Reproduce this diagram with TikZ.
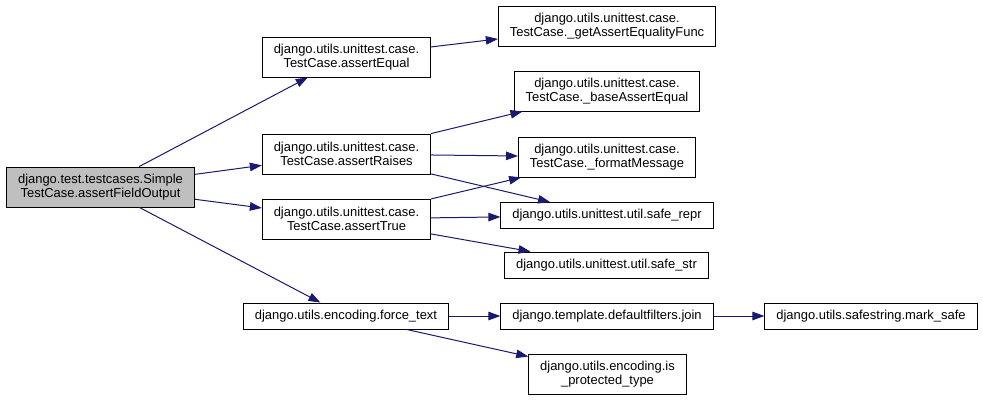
\documentclass[tikz,border=0pt]{standalone}
\usepackage{fontspec}
\setmainfont{Liberation Sans}
\usetikzlibrary{arrows.meta}
\definecolor{edgeblue}{HTML}{191970}
\definecolor{rootgray}{HTML}{BFBFBF}
\tikzset{
  fn/.style={draw=black, line width=0.9bp, fill=white, align=center, inner xsep=11.5bp, inner ysep=0pt,
    minimum height=26bp, font=\fontsize{13}{14}\selectfont},
  fn2/.style={fn, minimum height=40bp},
  call/.style={draw=edgeblue, line width=1bp, -{Triangle[length=12bp,width=8.5bp]}}
}
\begin{document}
\begin{tikzpicture}[x=1bp, y=-1bp]
            \useasboundingbox (0,0) rectangle (983,401);
            \node[fn2, fill=rootgray] (root) at (100.5,187) {django.test.testcases.Simple\\TestCase.assertFieldOutput};
            \node[fn2] (eq) at (346.5,57) {django.utils.unittest.case.\\TestCase.assertEqual};
            \node[fn2] (ra) at (346.5,154) {django.utils.unittest.case.\\TestCase.assertRaises};
            \node[fn2] (tr) at (346.5,219) {django.utils.unittest.case.\\TestCase.assertTrue};
            \node[fn] (ft) at (346,316) {django.utils.encoding.force\_text};
            \node[fn2] (gf) at (607,26) {django.utils.unittest.case.\\TestCase.\_getAssertEqualityFunc};
            \node[fn2] (ba) at (607,91) {django.utils.unittest.case.\\TestCase.\_baseAssertEqual};
            \node[fn2] (fm) at (607,157) {django.utils.unittest.case.\\TestCase.\_formatMessage};
            \node[fn] (sr) at (607,215.5) {django.utils.unittest.util.safe\_repr};
            \node[fn] (ss) at (606.5,265) {django.utils.unittest.util.safe\_str};
            \node[fn] (jn) at (607,316) {django.template.defaultfilters.join};
            \node[fn2] (ip) at (607.5,374) {django.utils.encoding.is\\\_protected\_type};
            \node[fn] (ms) at (871,316) {django.utils.safestring.mark\_safe};
            \draw[call] (root) to (eq);
            \draw[call] (root) to (ra);
            \draw[call] (root) to (tr);
            \draw[call] (root) to (ft);
            \draw[call] (eq) to (gf);
            \draw[call] (ra) to (ba);
            \draw[call] (ra) to (fm);
            \draw[call] (ra) to (sr);
            \draw[call] (tr) to (fm);
            \draw[call] (tr) to (sr);
            \draw[call] (tr) to (ss);
            \draw[call] (ft) to (jn);
            \draw[call] (ft) to (ip);
            \draw[call] (jn) to (ms);
        \end{tikzpicture}
\end{document}
